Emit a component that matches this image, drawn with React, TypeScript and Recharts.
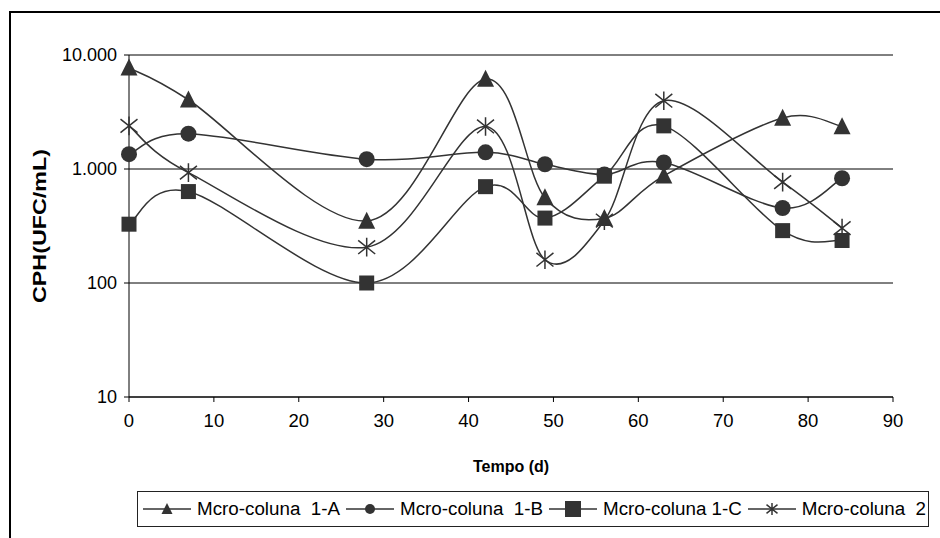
import { LineChart, Line, XAxis, YAxis, CartesianGrid, Legend } from 'recharts';

// Tempo (d)
const days = [0, 7, 28, 42, 49, 56, 63, 77, 84];

// CPH (UFC/mL) per micro-coluna
const colA = [7700, 4050, 350, 6150, 560, 370, 870, 2800, 2360];
const colB = [1350, 2040, 1220, 1400, 1100, 895, 1140, 455, 830];
const colC = [328, 634, 100, 700, 371, 865, 2390, 288, 236];
const col2 = [2390, 930, 206, 2360, 160, 353, 3970, 767, 303];

const xTicks = [0, 10, 20, 30, 40, 50, 60, 70, 80, 90];
const yTicks = [10, 100, 1000, 10000];
const yTickLabels = ['10', '100', '1.000', '10.000'];

const seriesNames = ['Mcro-coluna  1-A', 'Mcro-coluna  1-B', 'Mcro-coluna 1-C', 'Mcro-coluna  2'];

const data = days.map((d, i) => ({
  day: d,
  a: colA[i],
  b: colB[i],
  c: colC[i],
  s2: col2[i],
}));

const INK = '#333333';
const FONT = '"Liberation Sans", Arial, sans-serif';

// Excel-like smoothed line (Catmull-Rom to bezier)
const excelSmooth = (ctx: any) => {
  let pts: number[][] = [];
  return {
    areaStart() {},
    areaEnd() {},
    lineStart() {
      pts = [];
    },
    point(x: number, y: number) {
      pts.push([+x, +y]);
    },
    lineEnd() {
      if (!pts.length) return;
      ctx.moveTo(pts[0][0], pts[0][1]);
      for (let i = 0; i < pts.length - 1; i++) {
        const p0 = pts[i - 1] || pts[i];
        const p1 = pts[i];
        const p2 = pts[i + 1];
        const p3 = pts[i + 2] || p2;
        ctx.bezierCurveTo(
          p1[0] + (p2[0] - p0[0]) / 6,
          p1[1] + (p2[1] - p0[1]) / 6,
          p2[0] - (p3[0] - p1[0]) / 6,
          p2[1] - (p3[1] - p1[1]) / 6,
          p2[0],
          p2[1]
        );
      }
    },
  };
};

const Triangle = ({ cx, cy, s = 17 }: any) => (
  <path d={`M${cx},${cy - s * 0.55}L${cx + s / 2},${cy + s * 0.45}L${cx - s / 2},${cy + s * 0.45}Z`} fill={INK} />
);
const Circle = ({ cx, cy, s = 16 }: any) => <circle cx={cx} cy={cy} r={s / 2} fill={INK} />;
const Square = ({ cx, cy, s = 15 }: any) => <rect x={cx - s / 2} y={cy - s / 2} width={s} height={s} fill={INK} />;
const Star = ({ cx, cy, s = 17 }: any) => {
  const h = s / 2;
  return (
    <path
      d={`M${cx - h},${cy - h * 0.8}L${cx + h},${cy + h * 0.8}M${cx + h},${cy - h * 0.8}L${cx - h},${cy + h * 0.8}M${cx},${cy - h * 1.1}L${cx},${cy + h * 1.1}`}
      stroke={INK}
      strokeWidth={1.5}
      fill="none"
    />
  );
};

const markers = [Triangle, Circle, Square, Star];
const legendSizes = [11, 10, 16, 11];

const dotFor = (M: any) => (props: any) => {
  if (props.cx == null || props.cy == null) return <g key={props.index} />;
  return <M key={props.index} cx={props.cx} cy={props.cy} />;
};

const LegendBox = () => (
  <div
    style={{
      boxSizing: 'border-box',
      width: '100%',
      height: '100%',
      border: `1.5px solid #222`,
      background: '#fff',
      display: 'flex',
      alignItems: 'center',
      paddingLeft: 5,
      fontFamily: FONT,
      fontSize: 18.8,
      color: '#000',
      whiteSpace: 'pre',
    }}
  >
    {seriesNames.map((name, i) => {
      const M = markers[i];
      return (
        <div key={name} style={{ display: 'flex', alignItems: 'center', marginRight: 6 }}>
          <svg width={48} height={20} style={{ marginRight: 6 }}>
            <line x1={0} y1={10} x2={48} y2={10} stroke={INK} strokeWidth={1.5} />
            <M cx={24} cy={10} s={legendSizes[i]} />
          </svg>
          <span>{name}</span>
        </div>
      );
    })}
  </div>
);

export default function App() {
  return (
    <div
      style={{
        position: 'absolute',
        left: 0,
        top: 0,
        width: 940,
        height: 538,
        overflow: 'hidden',
        background: '#fff',
      }}
    >
      <div
        style={{
          position: 'absolute',
          left: 9,
          top: 11,
          width: 960,
          height: 560,
          borderLeft: '2px solid #000',
          borderTop: '2px solid #000',
        }}
      />
      <div style={{ position: 'absolute', left: 0, top: 0 }}>
        <LineChart width={940} height={538} data={data} margin={{ top: 55, right: 47, bottom: 0, left: 0 }}>
          <CartesianGrid horizontal vertical={false} stroke="#000" strokeWidth={1} />
          <XAxis
            dataKey="day"
            type="number"
            domain={[0, 90]}
            ticks={xTicks}
            height={141}
            stroke="#000"
            tickSize={5}
            tickMargin={12}
            tick={{ fill: '#000', fontSize: 18.5, fontFamily: FONT }}
            label={({ viewBox }: any) => (
              <text
                x={viewBox.x + viewBox.width / 2}
                y={viewBox.y + 75}
                textAnchor="middle"
                fontFamily={FONT}
                fontWeight="bold"
                fontSize={16}
                fill="#000"
              >
                Tempo (d)
              </text>
            )}
          />
          <YAxis
            scale="log"
            domain={[10, 10000]}
            ticks={yTicks}
            width={129}
            stroke="#000"
            tickSize={5}
            tickMargin={7}
            allowDataOverflow
            tickFormatter={(v: number) => yTickLabels[yTicks.indexOf(v)] ?? String(v)}
            tick={{ fill: '#000', fontSize: 18, fontFamily: FONT }}
            label={({ viewBox }: any) => {
              const cx = 40;
              const cy = viewBox.y + viewBox.height / 2;
              return (
                <text
                  x={cx}
                  y={cy}
                  transform={`rotate(-90, ${cx}, ${cy})`}
                  textAnchor="middle"
                  dominantBaseline="central"
                  fontFamily={FONT}
                  fontWeight="bold"
                  fontSize={17.5}
                  textLength={154}
                  lengthAdjust="spacingAndGlyphs"
                  fill="#000"
                >
                  CPH(UFC/mL)
                </text>
              );
            }}
          />
          <Legend
            layout="horizontal"
            verticalAlign="middle"
            align="center"
            wrapperStyle={{ top: 491, left: 137, width: 792, height: 36 }}
            content={() => <LegendBox />}
          />
          <Line dataKey="a" name={seriesNames[0]} type={excelSmooth as any} stroke={INK} strokeWidth={1.5} dot={dotFor(Triangle)} activeDot={false} isAnimationActive={false} />
          <Line dataKey="b" name={seriesNames[1]} type={excelSmooth as any} stroke={INK} strokeWidth={1.5} dot={dotFor(Circle)} activeDot={false} isAnimationActive={false} />
          <Line dataKey="c" name={seriesNames[2]} type={excelSmooth as any} stroke={INK} strokeWidth={1.5} dot={dotFor(Square)} activeDot={false} isAnimationActive={false} />
          <Line dataKey="s2" name={seriesNames[3]} type={excelSmooth as any} stroke={INK} strokeWidth={1.5} dot={dotFor(Star)} activeDot={false} isAnimationActive={false} />
        </LineChart>
      </div>
    </div>
  );
}
